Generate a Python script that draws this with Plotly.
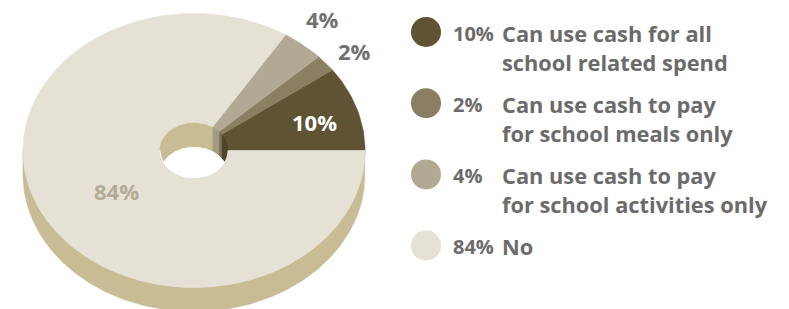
import numpy as np
import plotly.graph_objects as go

# ---------------- data ----------------
categories = ["Can use cash for all school related spend",
              "Can use cash to pay for school meals only",
              "Can use cash to pay for school activities only",
              "No"]
legend_lines = [["Can use cash for all", "school related spend"],
                ["Can use cash to pay", "for school meals only"],
                ["Can use cash to pay", "for school activities only"],
                ["No"]]
values = [10, 2, 4, 84]
pct_labels = ["10%", "2%", "4%", "84%"]

# ---------------- style ----------------
top_colors = ["#5f5334", "#8a7f63", "#b1a993", "#e6e1d5"]
wall_colors = ["#4f452b", "#7a7056", "#a39b84", "#c7bc94"]
side_color = "#c7bc94"
label_colors = ["#ffffff", "#707070", "#707070", "#b3ab95"]
label_radius = [0.74, 1.17, 1.24, 0.52]
label_dx = [0, 6, -7, 0]     # pixel nudges
label_dy = [3, 2.5, -1, 6]   # pixel nudges (downwards)
text_color = "#6b6b6b"
FONT = "Open Sans"

W, H = 789, 309
CX, CY, RX, RY, DEPTH = 194, 150.5, 171, 137, 24
HOLE = 0.2

fig = go.Figure()


def add_poly(xs, ys, color):
    fig.add_trace(go.Scatter(x=list(xs) + [xs[0]], y=list(ys) + [ys[0]], mode="lines",
                             fill="toself", fillcolor=color,
                             line=dict(color=color, width=0.6),
                             hoverinfo="skip", showlegend=False))


total = float(sum(values))
bounds = np.concatenate([[0], np.cumsum(values)]) / total * 2 * np.pi

# outer wall (front half)
th = np.linspace(np.pi, 2 * np.pi, 200)
xt = CX + RX * np.cos(th)
yt = CY - RY * np.sin(th)
add_poly(np.concatenate([xt, xt[::-1]]), np.concatenate([yt, (yt + DEPTH)[::-1]]), side_color)

# top face sectors
for i, v in enumerate(values):
    a0, a1 = bounds[i], bounds[i + 1]
    n = max(8, int(200 * v / total))
    t = np.linspace(a0, a1, n)
    xs = np.concatenate([[CX], CX + RX * np.cos(t)])
    ys = np.concatenate([[CY], CY - RY * np.sin(t)])
    add_poly(xs, ys, top_colors[i])

# hole: inner wall (back half) per slice
hrx, hry = RX * HOLE, RY * HOLE
for i in range(len(values)):
    a0, a1 = max(bounds[i], 0), min(bounds[i + 1], np.pi)
    if a1 <= a0:
        continue
    t = np.linspace(a0, a1, 60)
    s = np.sin(t)
    xs = CX + hrx * np.cos(t)
    ytop = CY - hry * s
    ybot = np.minimum(ytop + DEPTH, CY + hry * s)
    add_poly(np.concatenate([xs, xs[::-1]]), np.concatenate([ytop, ybot[::-1]]), wall_colors[i])

# see-through part of the hole
t = np.linspace(0, np.pi, 200)
s = np.sin(t)
xs = CX + hrx * np.cos(t)
yup = np.minimum(CY - hry * s + DEPTH, CY + hry * s)
ylo = CY + hry * s
add_poly(np.concatenate([xs, xs[::-1]]), np.concatenate([yup, ylo[::-1]]), "#ffffff")

# slice labels
annotations = []
for i, v in enumerate(values):
    mid = (bounds[i] + bounds[i + 1]) / 2
    r = label_radius[i]
    annotations.append(dict(x=CX + RX * r * np.cos(mid), y=CY - RY * r * np.sin(mid),
                            xshift=label_dx[i], yshift=-label_dy[i],
                            text="<b>%s</b>" % pct_labels[i], showarrow=False,
                            xanchor="center", yanchor="middle", borderpad=0,
                            font=dict(family=FONT, size=22, color=label_colors[i])))

# legend
LEG_X, NUM_X, TXT_X = 426, 452, 501
LEG_Y0, LEG_STEP, LINE_H = 32, 71.2, 29
fig.add_trace(go.Scatter(x=[LEG_X] * len(values),
                         y=[LEG_Y0 + LEG_STEP * i for i in range(len(values))],
                         mode="markers", marker=dict(size=30, color=top_colors),
                         hoverinfo="skip", showlegend=False))
for i in range(len(values)):
    y0 = LEG_Y0 + LEG_STEP * i
    annotations.append(dict(x=NUM_X, y=y0 + 1, text="<b>%s</b>" % pct_labels[i], showarrow=False,
                            xanchor="left", yanchor="middle", borderpad=0,
                            font=dict(family=FONT, size=20, color=text_color)))
    for j, line in enumerate(legend_lines[i]):
        tx = TXT_X if len(legend_lines[i]) > 1 else NUM_X + 49
        annotations.append(dict(x=tx, y=y0 + 1 + LINE_H * j, text="<b>%s</b>" % line,
                                showarrow=False, xanchor="left", yanchor="middle", borderpad=0,
                                font=dict(family=FONT, size=21.8, color=text_color)))

fig.update_layout(
    width=W, height=H, margin=dict(l=0, r=0, t=0, b=0),
    paper_bgcolor="white", plot_bgcolor="white",
    xaxis=dict(range=[0, W], visible=False, fixedrange=True),
    yaxis=dict(range=[H, 0], visible=False, fixedrange=True),
    annotations=annotations, showlegend=False, hovermode=False,
)
fig.write_html("out.html", config={"displayModeBar": False, "staticPlot": True},
               post_script="document.body.style.margin='0px';")
